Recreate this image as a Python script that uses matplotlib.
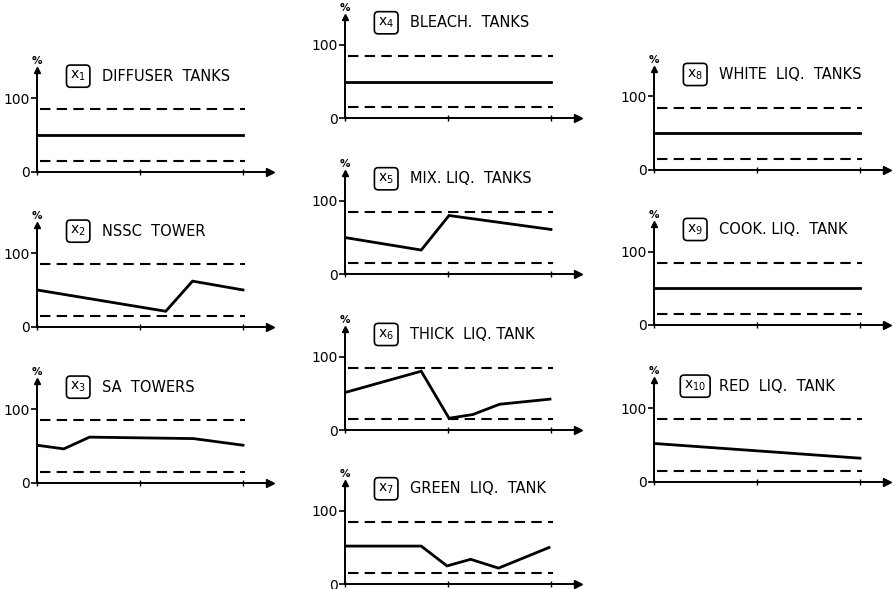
import matplotlib
matplotlib.use('Agg')
import matplotlib.pyplot as plt

plt.rcParams['font.family'] = 'DejaVu Sans'
plt.rcParams['mathtext.fontset'] = 'dejavusans'

# tank names and trend data (x = time step 0..2, y = level in %)
names = ['DIFFUSER  TANKS', 'NSSC  TOWER', 'SA  TOWERS', 'BLEACH.  TANKS',
         'MIX. LIQ.  TANKS', 'THICK  LIQ. TANK', 'GREEN  LIQ.  TANK',
         'WHITE  LIQ.  TANKS', 'COOK. LIQ.  TANK', 'RED  LIQ.  TANK']
x1 = [0, 2.0];                           y1 = [50, 50]
x2 = [0, 1.25, 1.51, 2.0];               y2 = [50, 21, 62, 50]
x3 = [0, 0.26, 0.51, 1.52, 2.0];         y3 = [51, 46, 62, 60, 51]
x4 = [0, 2.0];                           y4 = [50, 50]
x5 = [0, 0.74, 1.01, 2.0];               y5 = [50, 33, 80, 61]
x6 = [0, 0.74, 1.01, 1.24, 1.5, 1.99];   y6 = [51, 80, 16, 21, 35, 42]
x7 = [0, 0.74, 0.99, 1.22, 1.49, 1.98];  y7 = [52, 52, 25, 34, 22, 50]
x8 = [0, 2.0];                           y8 = [50, 50]
x9 = [0, 2.0];                           y9 = [50, 50]
x10 = [0, 2.0];                          y10 = [52, 32]
xs = [x1, x2, x3, x4, x5, x6, x7, x8, x9, x10]
ys = [y1, y2, y3, y4, y5, y6, y7, y8, y9, y10]
upper = 85
lower = 15

# origin of each little chart in pixels (x from left, y from top)
origins = [(37, 171.7), (37, 326.7), (37, 482.7),
           (345, 118.3), (345, 274.3), (345, 430), (345, 584.3),
           (654, 170), (654, 325), (654, 481.7)]

W, H = 895, 589
fig = plt.figure(figsize=(W / 100, H / 100), dpi=100)

xmax = 2.26
ymax = 138
px_x = 103.0    # pixels per x unit
px_y = 0.735    # pixels per % unit

for i in range(10):
    ox, oy = origins[i]
    ax = fig.add_axes([ox / W, (H - oy) / H, xmax * px_x / W, ymax * px_y / H])
    ax.set_xlim(0, xmax)
    ax.set_ylim(0, ymax)
    ax.patch.set_alpha(0)
    for s in ['top', 'right']:
        ax.spines[s].set_visible(False)
    ax.spines['left'].set_linewidth(1.4)
    ax.spines['bottom'].set_linewidth(1.4)
    # arrows
    ax.plot(1, 0, '>k', ms=6, transform=ax.get_yaxis_transform(), clip_on=False)
    ax.plot(0, 1, '^k', ms=5, transform=ax.get_xaxis_transform(), clip_on=False)

    ax.set_yticks([0, 100])
    ax.set_yticklabels(['0', '100'], fontsize=10)
    ax.set_xticks([0, 1, 2])
    ax.set_xticklabels([])
    ax.tick_params(axis='y', direction='out', length=4, width=1.2, pad=1)
    ax.tick_params(axis='x', direction='inout', length=5, width=1.0)

    # limit lines
    ax.hlines([upper, lower], 0.03, 2.02, colors='black',
              linestyles=(0, (5, 3)), linewidth=1.5)
    # trend
    ax.plot(xs[i], ys[i], color='black', lw=2.0, solid_joinstyle='miter')

    # labels
    ax.text(0, 150, '%', fontsize=7.5, fontweight='bold', ha='center',
            va='center', clip_on=False)
    ax.text(0.4, 130, r'$\mathregular{x_{%d}}$' % (i + 1), fontsize=10,
            ha='center', va='center', clip_on=False,
            bbox=dict(boxstyle='round,pad=0.28', fc='white', ec='black', lw=1.2))
    ax.text(0.63, 130, names[i], fontsize=10.5, ha='left', va='center',
            clip_on=False)

fig.savefig('out.png', dpi=100)
